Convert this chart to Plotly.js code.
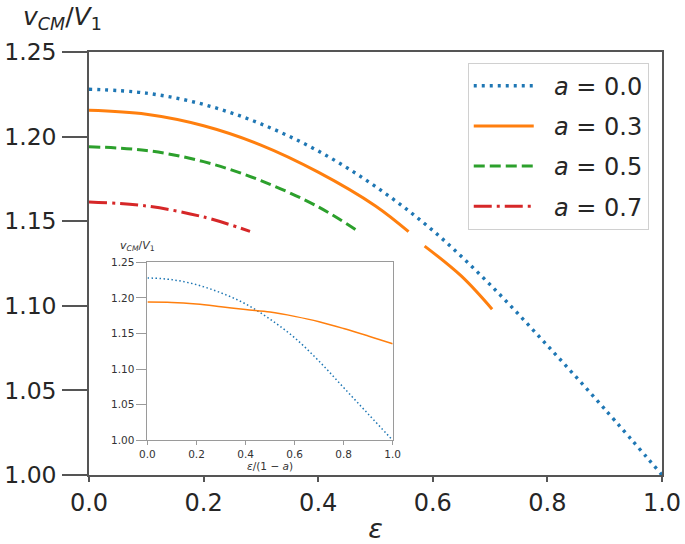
<!DOCTYPE html>
<html>
<head>
<meta charset="utf-8">
<script src="https://cdn.plot.ly/plotly-3.0.1.min.js"></script>
<style>
html,body{margin:0;padding:0;background:#ffffff;}
#chart{width:685px;height:544px;}
</style>
</head>
<body>
<div id="chart"></div>
<script>
// ---- main panel data (epsilon vs v_CM/V_1) ----
const eps_a00 = [0.0, 0.1, 0.2, 0.3, 0.4, 0.5, 0.6, 0.7, 0.8, 0.9, 1.0];
const v_a00   = [1.228, 1.2257, 1.219, 1.2075, 1.1915, 1.1705, 1.1445, 1.1125, 1.0765, 1.039, 1.000];

const eps_a03 = [0.0, 0.1, 0.2, 0.3, 0.4, 0.5, 0.5577, 0.571, 0.5857, 0.65, 0.7035];
const v_a03   = [1.2155, 1.2132, 1.2064, 1.195, 1.179, 1.159, 1.1438, null, 1.1353, 1.1175, 1.098];

const eps_a05 = [0.0, 0.1, 0.2, 0.3, 0.4, 0.4675];
const v_a05   = [1.194, 1.1918, 1.1852, 1.174, 1.1585, 1.1445];

const eps_a07 = [0.0, 0.1, 0.2, 0.281];
const v_a07   = [1.1614, 1.159, 1.1525, 1.144];

// ---- inset data (epsilon/(1-a) vs v_CM/V_1) ----
const inset_x      = [0.0, 0.1, 0.2, 0.3, 0.4, 0.5, 0.6, 0.7, 0.8, 0.9, 1.0];
const inset_blue   = [1.228, 1.2255, 1.2185, 1.207, 1.1915, 1.170, 1.144, 1.111, 1.074, 1.037, 1.000];
const inset_orange = [1.194, 1.1935, 1.1912, 1.1875, 1.1835, 1.180, 1.174, 1.1665, 1.157, 1.1465, 1.1355];

const legendNames = ['<i>a</i> = 0.0', '<i>a</i> = 0.3', '<i>a</i> = 0.5', '<i>a</i> = 0.7'];
const yTicks = [1.00, 1.05, 1.10, 1.15, 1.20, 1.25];
const xTicks = [0.0, 0.2, 0.4, 0.6, 0.8, 1.0];

const C_BLUE = '#1f77b4', C_ORANGE = '#ff7f0e', C_GREEN = '#2ca02c', C_RED = '#d62728';
const FONT = 'DejaVu Sans, Liberation Sans, sans-serif';
const PAD = '\u00a0\u00a0';

const traces = [
  {x: eps_a00, y: v_a00, name: PAD + legendNames[0], legendgroup: 'g0', mode: 'lines',
   line: {color: C_BLUE, width: 3.4, dash: '3px,5px', shape: 'spline'}},
  {x: eps_a03, y: v_a03, name: PAD + legendNames[1], legendgroup: 'g1', mode: 'lines', connectgaps: false,
   line: {color: C_ORANGE, width: 3, shape: 'spline'}},
  {x: eps_a05, y: v_a05, name: PAD + legendNames[2], legendgroup: 'g2', mode: 'lines',
   line: {color: C_GREEN, width: 3, dash: '11px,5px', shape: 'spline'}},
  {x: eps_a07, y: v_a07, name: PAD + legendNames[3], legendgroup: 'g3', mode: 'lines',
   line: {color: C_RED, width: 3, dash: '18px,5px,3px,5px', shape: 'spline'}},
  {x: inset_x, y: inset_blue, xaxis: 'x2', yaxis: 'y2', mode: 'lines', showlegend: false,
   line: {color: C_BLUE, width: 1.5, dash: '1.5px,2.5px', shape: 'spline'}},
  {x: inset_x, y: inset_orange, xaxis: 'x2', yaxis: 'y2', mode: 'lines', showlegend: false,
   line: {color: C_ORANGE, width: 1.5, shape: 'spline'}}
];

const layout = {
  width: 685, height: 544,
  margin: {l: 89, r: 23, t: 52, b: 69, pad: 0},
  paper_bgcolor: '#ffffff', plot_bgcolor: '#ffffff',
  font: {family: FONT, color: '#262626'},
  showlegend: true,
  legend: {
    x: 0.661, y: 0.975, xanchor: 'left', yanchor: 'top',
    bgcolor: 'rgba(255,255,255,0.9)', bordercolor: '#d0d0d0', borderwidth: 1,
    font: {family: FONT, size: 24, color: '#262626'},
    traceorder: 'grouped', tracegroupgap: 6, itemwidth: 60
  },
  xaxis: {
    domain: [0, 1], range: [0, 1], tickvals: xTicks, tickformat: '.1f',
    showgrid: false, zeroline: false, showline: true, mirror: true,
    linecolor: '#555555', linewidth: 1.5,
    ticks: 'outside', ticklen: 5, tickwidth: 1.5, tickcolor: '#555555',
    tickfont: {family: FONT, size: 24, color: '#262626'},
    title: {text: '<i>ε</i>', font: {family: FONT, size: 27, color: '#262626'}, standoff: 12}
  },
  yaxis: {
    domain: [0, 1], range: [1.0, 1.25], tickvals: yTicks, tickformat: '.2f',
    showgrid: false, zeroline: false, showline: true, mirror: true,
    linecolor: '#555555', linewidth: 1.5,
    ticks: 'outside', ticklen: 25, tickwidth: 1.5, tickcolor: '#555555',
    tickfont: {family: FONT, size: 23.5, color: '#262626'},
    ticklabelstandoff: 1
  },
  xaxis2: {
    anchor: 'y2', domain: [0.102, 0.530], range: [0, 1], tickvals: xTicks, tickformat: '.1f',
    showgrid: false, zeroline: false, showline: true, mirror: true,
    linecolor: '#9a9a9a', linewidth: 1,
    ticks: 'outside', ticklen: 4, tickwidth: 1, tickcolor: '#9a9a9a',
    tickfont: {family: FONT, size: 10.5, color: '#333333'},
    title: {text: '<i>ε</i>/(1 − <i>a</i>)', font: {family: FONT, size: 10.5, color: '#333333'}, standoff: 3}
  },
  yaxis2: {
    anchor: 'x2', domain: [0.082, 0.503], range: [1.0, 1.25], tickvals: yTicks, tickformat: '.2f',
    showgrid: false, zeroline: false, showline: true, mirror: true,
    linecolor: '#9a9a9a', linewidth: 1,
    ticks: 'outside', ticklen: 10, tickwidth: 1, tickcolor: '#9a9a9a',
    tickfont: {family: FONT, size: 10.5, color: '#333333'}
  },
  annotations: [
    {text: '<i>v</i><sub><i>CM</i></sub>/<i>V</i><sub>1</sub>', xref: 'paper', yref: 'paper',
     x: -0.118, y: 1.08, xanchor: 'left', yanchor: 'middle', showarrow: false,
     font: {family: FONT, size: 25, color: '#262626'}},
    {text: '<i>v</i><sub><i>CM</i></sub>/<i>V</i><sub>1</sub>', xref: 'paper', yref: 'paper',
     x: (118 - 89.3) / 572.4, y: (475.3 - 246) / 423.6, xanchor: 'left', yanchor: 'middle', showarrow: false,
     font: {family: FONT, size: 11, color: '#333333'}}
  ]
};

Plotly.newPlot('chart', traces, layout, {displayModeBar: false, responsive: false});
</script>
</body>
</html>
